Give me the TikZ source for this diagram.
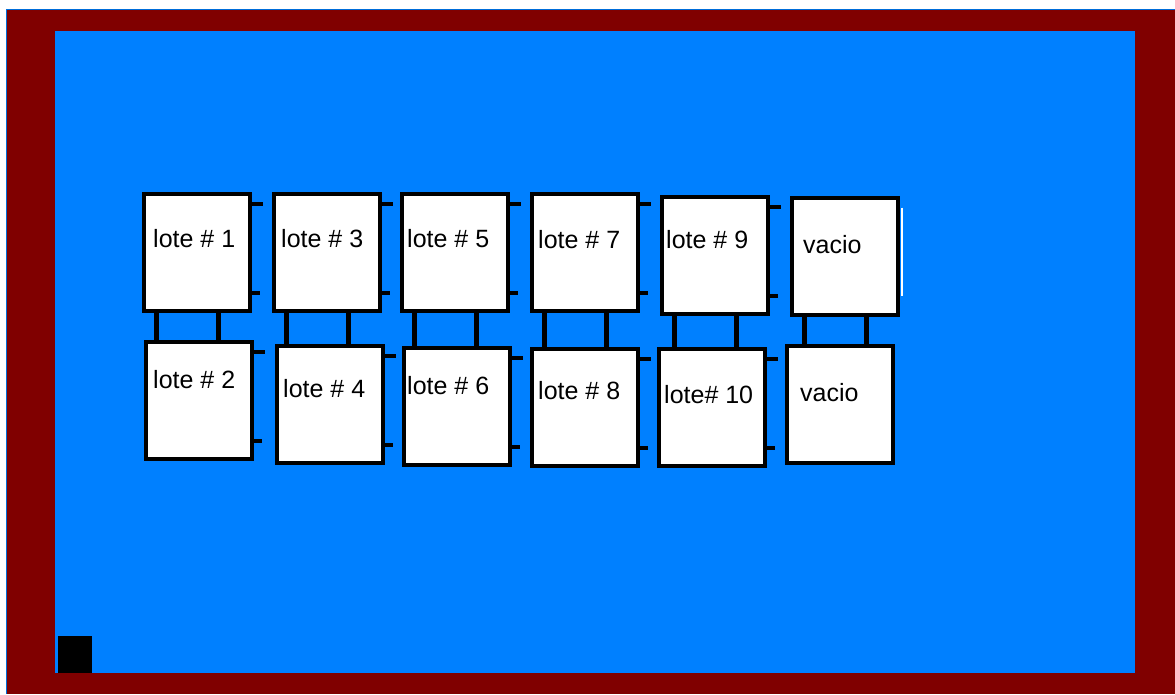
\documentclass[tikz,border=0pt]{standalone}
\usepackage{fontspec}
\setmainfont{Liberation Sans}
\usetikzlibrary{calc}
\definecolor{frameRed}{RGB}{128,0,0}
\definecolor{fieldBlue}{RGB}{0,128,255}

\begin{document}
\begin{tikzpicture}[x=1pt,y=-1pt,
  lotbox/.style={draw=black,fill=white,line width=4pt,minimum width=106pt,minimum height=117pt,inner sep=0pt},
  lottext/.style={anchor=base west,inner sep=0pt,font=\fontsize{25}{28}\selectfont},
  stubline/.style={line width=4pt},
  linkline/.style={line width=5pt}]
  \useasboundingbox (0,0) rectangle (1175,694);
  % frame and field
  \fill[fieldBlue!85!black] (6,9) rectangle (1175,694);
  \fill[frameRed] (7,10) rectangle (1175,694);
  \fill[fieldBlue] (55,31) rectangle (1135,673);
  \fill[black] (58,636) rectangle (92,673);
  % lots
  \foreach \n/\cx/\cy/\tx/\ty/\t in {lote1/197/252.5/153/247/lote \# 1,
      lote3/327/252.5/281/247/lote \# 3, lote5/455/252.5/407/247/lote \# 5,
      lote7/585/252.5/538/248/lote \# 7, lote9/715/255/666/248/lote \# 9,
      vacio1/845/256/803/253/vacio,
      lote2/198.5/400/153/388/lote \# 2, lote4/330/404.5/283/397/lote \# 4,
      lote6/456.5/406/407/394/lote \# 6, lote8/584.5/407.5/538/399/lote \# 8,
      lote10/712/407/664/403/lote\# 10, vacio2/840/404.5/800/401/vacio}{
    \node[lotbox] (\n) at (\cx,\cy) {};
    \node[lottext] (\n-txt) at (\tx,\ty) {\t};
  }
  % side stubs
  \foreach \n in {lote1,lote2,lote3,lote4,lote5,lote6,lote7,lote8,lote9,lote10}{
    \draw[stubline] ($(\n.north east)+(0,12)$) -- ++(11,0);
    \draw[stubline] ($(\n.north east)+(0,101)$) -- ++(8,0);
  }
  \draw[white,line width=1.5pt] ($(vacio1.north east)+(2,12)$) -- ($(vacio1.north east)+(2,100)$);
  % links between rows
  \foreach \u/\l in {lote1/lote2,lote3/lote4,lote5/lote6,lote7/lote8,lote9/lote10,vacio1/vacio2}{
    \coordinate (\u-a) at ($(\u.south west)+(14,0)$);
    \coordinate (\u-b) at ($(\u.south west)+(76,0)$);
    \draw[linkline] (\u-a) -- (\u-a |- \l.north);
    \draw[linkline] (\u-b) -- (\u-b |- \l.north);
  }
\end{tikzpicture}
\end{document}
